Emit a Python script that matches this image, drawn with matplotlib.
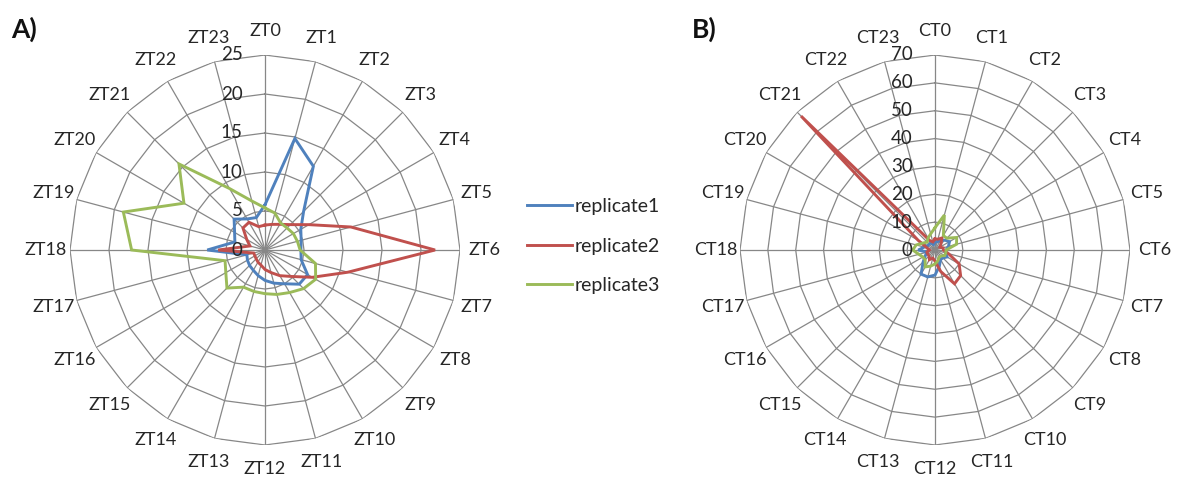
import numpy as np
import matplotlib.pyplot as plt
from matplotlib.transforms import offset_copy
from matplotlib.lines import Line2D

plt.rcParams['font.family'] = ['Lato', 'DejaVu Sans']

# Time points (hours) and their labels
hours = np.arange(24)
zt_labels = [f'ZT{h}' for h in hours]
ct_labels = [f'CT{h}' for h in hours]
series_names = ['replicate1', 'replicate2', 'replicate3']

# A) light/dark cycle (ZT)
rep1_zt = [5.8, 14.8, 12.4, 7.0, 5.3, 4.8, 4.6, 4.8, 6.3, 6.2, 5.0, 4.4,
           3.9, 3.4, 3.0, 2.8, 2.6, 2.4, 7.4, 4.0, 4.5, 5.6, 4.6, 4.3]
rep2_zt = [3.2, 3.4, 3.8, 4.6, 6.5, 11.4, 21.8, 11.0, 7.0, 4.8, 3.8, 3.0,
           2.5, 2.0, 1.8, 1.6, 1.5, 1.5, 6.0, 2.0, 2.7, 4.0, 4.1, 3.1]
rep3_zt = [5.4, 4.9, 4.0, 4.0, 4.2, 4.3, 4.5, 6.7, 7.5, 7.0, 6.3, 5.9,
           5.6, 5.5, 5.5, 6.9, 5.8, 5.3, 17.1, 18.8, 12.0, 15.6, 9.1, 6.5]

# B) constant conditions (CT)
rep1_ct = [3, 3, 4, 5, 6, 5, 4, 4, 5, 4, 4, 6,
           9, 10, 10, 6, 4, 3, 6, 4, 3, 3, 3, 2]
rep2_ct = [4, 4, 5, 3, 2, 3, 3, 5, 10, 13, 14, 8,
           4, 3, 4, 3, 3, 3, 2, 3, 7, 68, 4, 3]
rep3_ct = [8, 13, 6, 6, 9, 8, 4, 4, 4, 3, 3, 4,
           5, 6, 7, 5, 5, 6, 8, 7, 5, 4, 5, 6]

colors = ['#4F81BD', '#C0504D', '#9BBB59']
grid_color = '#878787'
text_color = '#262626'

fig = plt.figure(figsize=(11.85, 4.78), dpi=100)


def radar(rect, labels, series, rmax, rstep):
    ax = fig.add_axes(rect, projection='polar')
    ax.set_theta_zero_location('N')
    ax.set_theta_direction(-1)
    theta = np.deg2rad(hours * 15)
    closed = np.append(theta, theta[0])
    ticks = np.arange(0, rmax + 1, rstep)

    # polygonal rings instead of circles
    ax.yaxis.grid(False)
    ax.spines['polar'].set_visible(False)
    for t in ticks[1:]:
        ax.plot(closed, np.full(closed.size, t), color=grid_color,
                linewidth=0.9, zorder=1)
    ax.xaxis.grid(True, color=grid_color, linewidth=0.9)

    for vals, c in zip(series, colors):
        v = np.asarray(vals, dtype=float)
        ax.plot(closed, np.append(v, v[0]), color=c, linewidth=2.1,
                solid_joinstyle='miter', zorder=3)

    ax.set_ylim(0, rmax)
    ax.set_yticks(ticks)
    ax.set_yticklabels([])
    ax.set_xticks(theta)
    ax.set_xticklabels(labels, fontsize=13, color=text_color)
    ax.tick_params(axis='x', pad=7)

    # value labels along the vertical axis
    tr = offset_copy(ax.transData, fig=fig, x=-16, y=0, units='points')
    for t in ticks:
        ax.text(0, t, f'{t:g}', transform=tr, ha='right', va='center',
                fontsize=13.5, color=text_color, zorder=4)
    return ax


radar([70 / 1185, 33 / 478, 390 / 1185, 390 / 478], zt_labels,
      [rep1_zt, rep2_zt, rep3_zt], 25, 5)
radar([740 / 1185, 33 / 478, 390 / 1185, 390 / 478], ct_labels,
      [rep1_ct, rep2_ct, rep3_ct], 70, 10)

handles = [Line2D([], [], color=c, linewidth=2.1) for c in colors]
fig.legend(handles, series_names, loc='center left',
           bbox_to_anchor=(527 / 1185, 1 - 246 / 478), frameon=False,
           fontsize=14, handlelength=2.3, handletextpad=0.15,
           labelspacing=1.15, borderpad=0, borderaxespad=0,
           labelcolor=text_color)

fig.text(11 / 1185, 1 - 29 / 478, 'A)', fontsize=19, fontweight='bold',
         va='center', color='#111111')
fig.text(692 / 1185, 1 - 29 / 478, 'B)', fontsize=19, fontweight='bold',
         va='center', color='#111111')

fig.savefig('out.png', dpi=100)
